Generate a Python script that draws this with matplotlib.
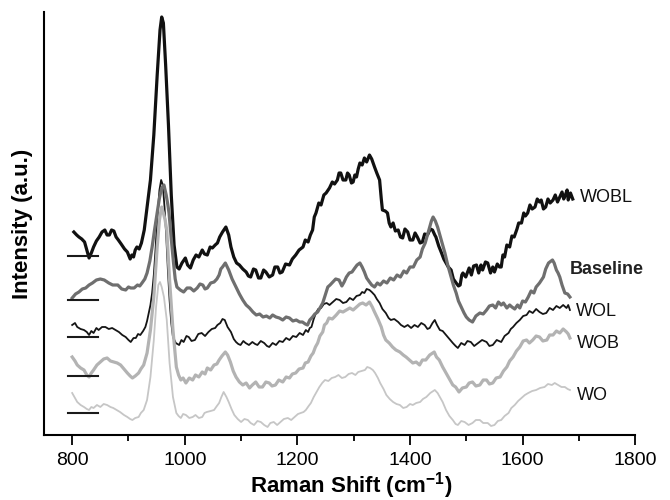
import matplotlib
matplotlib.use("Agg")
import matplotlib.pyplot as plt
from matplotlib.ticker import MultipleLocator

plt.rcParams['font.family'] = ['Liberation Sans', 'DejaVu Sans']
plt.rcParams['mathtext.fontset'] = 'custom'
plt.rcParams['mathtext.rm'] = 'Liberation Sans'
plt.rcParams['mathtext.bf'] = 'Liberation Sans:bold'

# Raman spectra, stacked (intensity in arbitrary units)
wobl_x = [803, 808, 812, 817, 822, 826, 830, 834, 838, 843, 848, 853, 858, 862, 866, 870, 874, 878,
          882, 887, 893, 898, 903, 906, 909, 912, 915, 919, 923, 928, 933, 939, 945, 951, 956, 959,
          962, 966, 971, 976, 981, 986, 990, 995, 1001, 1005, 1010, 1015, 1020, 1025, 1031, 1035,
          1040, 1045, 1049, 1054, 1058, 1062, 1067, 1073, 1078, 1082, 1087, 1092, 1097, 1103, 1109,
          1113, 1117, 1122, 1126, 1131, 1135, 1140, 1144, 1150, 1156, 1160, 1165, 1169, 1173, 1179,
          1186, 1191, 1197, 1203, 1210, 1214, 1219, 1223, 1227, 1230, 1233, 1238, 1242, 1247, 1251,
          1257, 1262, 1266, 1271, 1274, 1277, 1281, 1286, 1289, 1292, 1296, 1299, 1302, 1305, 1308,
          1311, 1315, 1319, 1323, 1328, 1332, 1337, 1341, 1346, 1349, 1351, 1356, 1360, 1363, 1366,
          1370, 1374, 1379, 1383, 1387, 1391, 1396, 1400, 1405, 1409, 1413, 1418, 1422, 1426, 1431,
          1436, 1440, 1444, 1446, 1451, 1456, 1460, 1464, 1468, 1473, 1477, 1482, 1486, 1489, 1492,
          1494, 1499, 1505, 1509, 1513, 1518, 1522, 1526, 1529, 1534, 1538, 1543, 1547, 1550, 1555,
          1559, 1562, 1565, 1568, 1572, 1577, 1581, 1585, 1590, 1593, 1598, 1602, 1605, 1609, 1613,
          1617, 1622, 1626, 1630, 1633, 1637, 1641, 1645, 1649, 1654, 1658, 1662, 1666, 1670, 1673,
          1676, 1679, 1681, 1685, 1689]
wobl_y = [203, 200, 198, 196, 193, 185, 177, 182, 188, 194, 198, 203, 205, 200, 200, 205, 204, 198,
          195, 191, 186, 183, 176, 180, 178, 185, 188, 186, 192, 205, 228, 255, 300, 360, 405, 418,
          412, 370, 310, 240, 190, 168, 166, 172, 177, 170, 167, 175, 180, 178, 185, 181,
          180, 188, 187, 190, 192, 198, 203, 208, 200, 188, 178, 172, 170, 166, 163,
          159, 158, 166, 165, 157, 157, 165, 163, 158, 160, 168, 168, 162, 163, 171,
          170, 176, 180, 185, 188, 195, 193, 200, 205, 218, 222, 232, 230, 240, 242,
          247, 253, 251, 255, 262, 262, 255, 255, 262, 260, 252, 253, 260, 258, 266,
          272, 270, 277, 273, 280, 276, 268, 262, 255, 236, 225, 224, 222, 212, 208,
          212, 204, 205, 198, 197, 206, 203, 195, 195, 202, 198, 192, 193, 201, 200,
          206, 205, 200, 198, 189, 182, 176, 172, 168, 165, 156, 152, 149, 150, 160,
          162, 158, 167, 160, 169, 170, 162, 170, 165, 173, 172, 162, 168, 163, 171,
          168, 168, 180, 178, 190, 188, 199, 198, 206, 212, 212, 222, 219, 222, 230,
          226, 228, 236, 233, 235, 226, 228, 236, 232, 235, 240, 233, 238, 243, 236,
          240, 245, 235, 242, 236]

base_x = [800, 806, 812, 818, 824, 830, 836, 843, 850, 857, 865, 872, 881, 888, 895, 900, 904, 910,
          916, 920, 924, 929, 933, 938, 942, 946, 951, 955, 959, 963, 967, 970, 972, 976, 980, 983,
          986, 992, 998, 1004, 1010, 1016, 1022, 1027, 1032, 1036, 1040, 1046, 1052, 1057, 1061,
          1064, 1067, 1072, 1078, 1084, 1091, 1097, 1103, 1109, 1115, 1121, 1127, 1133, 1139, 1145,
          1151, 1156, 1162, 1168, 1174, 1180, 1186, 1192, 1198, 1204, 1209, 1214, 1218, 1222, 1227,
          1231, 1236, 1240, 1245, 1250, 1254, 1258, 1263, 1268, 1274, 1279, 1283, 1287, 1292, 1297,
          1302, 1306, 1311, 1315, 1319, 1323, 1328, 1332, 1337, 1342, 1347, 1353, 1359, 1365, 1371,
          1377, 1383, 1389, 1394, 1400, 1406, 1412, 1418, 1422, 1427, 1431, 1435, 1438, 1441, 1445,
          1449, 1455, 1462, 1467, 1473, 1477, 1482, 1486, 1491, 1496, 1500, 1505, 1511, 1517, 1524,
          1530, 1536, 1541, 1547, 1552, 1557, 1562, 1566, 1572, 1577, 1581, 1586, 1591, 1595, 1600,
          1605, 1610, 1615, 1620, 1624, 1630, 1637, 1641, 1646, 1653, 1656, 1660, 1663, 1666, 1670,
          1675, 1680, 1684]
base_y = [137, 141, 143, 146, 147, 150, 152, 155, 156, 155, 152, 150, 150, 146, 145, 148, 147, 147,
          150, 149, 152, 156, 162, 174, 188, 204, 222, 237, 247, 250, 240, 230, 222, 196, 172, 156,
          148, 145, 143, 147, 147, 144, 147, 151, 150, 146, 147, 152, 153, 156, 160,
          166, 168, 172, 165, 156, 148, 141, 135, 130, 127, 123, 120, 121, 118, 119,
          117, 120, 118, 117, 115, 118, 117, 114, 115, 113, 113, 111, 110, 115, 118,
          121, 123, 127, 132, 141, 148, 150, 153, 156, 155, 149, 153, 158, 162, 163,
          167, 170, 172, 168, 163, 157, 153, 150, 148, 152, 150, 154, 152, 157, 155,
          160, 158, 164, 162, 168, 168, 175, 178, 186, 192, 200, 208, 214, 218, 214,
          208, 196, 182, 170, 158, 150, 142, 134, 128, 122, 118, 115, 113, 119, 122,
          121, 125, 129, 130, 127, 133, 130, 132, 127, 130, 128, 126, 130, 127, 134,
          133, 138, 144, 142, 148, 152, 158, 166, 172, 175, 172, 165, 162, 158, 150,
          142, 141, 138]

wol_x = [800, 805, 809, 815, 821, 826, 830, 834, 838, 843, 847, 853, 859, 865, 871, 877, 883, 889,
         895, 900, 904, 909, 913, 917, 921, 926, 930, 933, 936, 939, 942, 945, 948, 951, 955, 958,
         961, 964, 967, 970, 973, 976, 979, 984, 990, 994, 998, 1003, 1007, 1012, 1018, 1024, 1030,
         1036, 1042, 1048, 1054, 1058, 1063, 1067, 1071, 1076, 1082, 1087, 1091, 1095, 1099, 1104,
         1108, 1114, 1120, 1125, 1129, 1135, 1141, 1146, 1150, 1156, 1162, 1168, 1174, 1180, 1186,
         1192, 1198, 1204, 1210, 1215, 1219, 1222, 1225, 1229, 1233, 1237, 1242, 1247, 1252, 1257,
         1263, 1269, 1275, 1281, 1287, 1293, 1299, 1305, 1311, 1315, 1319, 1323, 1328, 1332, 1337,
         1341, 1346, 1351, 1357, 1362, 1366, 1372, 1379, 1384, 1390, 1396, 1402, 1408, 1414, 1420,
         1426, 1431, 1435, 1440, 1444, 1448, 1453, 1458, 1464, 1470, 1476, 1481, 1485, 1491, 1497,
         1502, 1508, 1514, 1521, 1528, 1536, 1541, 1547, 1554, 1562, 1568, 1575, 1579, 1583, 1589,
         1595, 1601, 1607, 1612, 1618, 1624, 1630, 1636, 1642, 1648, 1654, 1660, 1666, 1672, 1678,
         1681, 1684]
wol_y = [110, 112, 108, 106, 105, 103, 100, 104, 102, 107, 105, 108, 108, 106, 107, 105, 103, 100,
         98, 95, 93, 97, 97, 101, 100, 104, 108, 114, 122, 130, 142, 160, 185, 215, 245, 255,
         250, 228, 200, 165, 135, 112, 98, 92, 90, 95, 93, 99, 98, 94, 95, 101, 102,
         99, 103, 106, 107, 110, 112, 116, 115, 108, 103, 96, 93, 91, 90, 94,
         92, 90, 93, 91, 90, 94, 92, 89, 88, 92, 90, 94, 93, 97, 95,
         99, 98, 102, 100, 105, 103, 107, 108, 116, 122, 126, 127, 131, 132, 130,
         133, 136, 135, 132, 133, 137, 135, 139, 140, 143, 142, 146, 145, 143, 140,
         136, 132, 126, 122, 117, 115, 116, 113, 110, 108, 110, 107, 110, 108, 112,
         110, 106, 107, 112, 115, 110, 105, 104, 100, 96, 92, 89, 87, 92, 90,
         94, 93, 89, 92, 95, 93, 89, 90, 95, 93, 99, 102, 106, 108, 112,
         115, 119, 120, 124, 122, 126, 123, 121, 122, 127, 125, 129, 127, 130, 127,
         130, 125]

wob_x = [800, 805, 809, 815, 821, 826, 830, 834, 838, 844, 850, 856, 862, 868, 874, 880, 886, 892,
         898, 903, 907, 912, 918, 922, 927, 933, 939, 945, 951, 955, 957, 959, 962, 965, 968, 973,
         979, 985, 989, 993, 997, 1002, 1008, 1014, 1019, 1025, 1031, 1036, 1040, 1046, 1052, 1057,
         1061, 1066, 1072, 1076, 1081, 1086, 1091, 1097, 1103, 1109, 1115, 1120, 1126, 1132, 1138,
         1144, 1150, 1155, 1161, 1167, 1174, 1180, 1186, 1191, 1197, 1203, 1210, 1214, 1219, 1224,
         1228, 1232, 1236, 1240, 1245, 1248, 1252, 1256, 1262, 1269, 1275, 1281, 1287, 1293, 1299,
         1305, 1311, 1316, 1322, 1328, 1333, 1337, 1343, 1349, 1353, 1357, 1363, 1369, 1375, 1382,
         1388, 1393, 1399, 1405, 1411, 1417, 1422, 1428, 1435, 1443, 1447, 1452, 1458, 1464, 1470,
         1476, 1481, 1487, 1493, 1500, 1505, 1511, 1517, 1524, 1530, 1536, 1541, 1547, 1553, 1560,
         1566, 1572, 1577, 1583, 1589, 1595, 1601, 1607, 1612, 1618, 1624, 1630, 1636, 1643, 1648,
         1654, 1660, 1666, 1672, 1678, 1681, 1684]
wob_y = [78, 74, 70, 67, 65, 60, 58, 62, 65, 70, 73, 76, 77, 74, 73, 72, 70, 66,
         62, 59, 57, 59, 62, 66, 70, 82, 105, 138, 188, 215, 222, 228, 222, 215, 205, 155,
         105, 68, 60, 55, 57, 52, 57, 55, 60, 58, 63, 61, 67, 65, 70, 71,
         75, 79, 83, 80, 73, 64, 58, 53, 50, 52, 47, 50, 53, 48, 48,
         53, 52, 49, 50, 55, 53, 58, 57, 61, 62, 66, 67, 72, 73, 79,
         82, 88, 92, 99, 103, 110, 112, 117, 116, 120, 124, 123, 125, 127, 125,
         128, 131, 132, 130, 133, 128, 123, 116, 108, 100, 95, 92, 88, 85, 83,
         80, 78, 75, 72, 73, 70, 75, 75, 80, 83, 78, 75, 68, 62, 56,
         50, 48, 43, 47, 48, 52, 53, 49, 50, 55, 55, 51, 52, 57, 58,
         64, 68, 74, 78, 84, 88, 94, 95, 92, 95, 99, 98, 94, 95, 100,
         100, 104, 102, 106, 103, 101, 97]

wo_x = [800, 805, 809, 815, 821, 826, 830, 834, 838, 844, 850, 856, 862, 868, 873, 879, 885, 892,
        898, 903, 907, 912, 918, 922, 927, 933, 939, 945, 949, 953, 956, 959, 963, 968, 973, 979,
        985, 989, 993, 997, 1002, 1008, 1014, 1019, 1025, 1031, 1035, 1039, 1046, 1052, 1057, 1061,
        1065, 1069, 1074, 1078, 1083, 1088, 1094, 1100, 1106, 1112, 1117, 1123, 1129, 1135, 1141,
        1147, 1152, 1158, 1164, 1170, 1176, 1183, 1189, 1195, 1201, 1206, 1211, 1215, 1220, 1224,
        1229, 1233, 1239, 1244, 1249, 1255, 1261, 1267, 1273, 1279, 1285, 1291, 1297, 1303, 1308,
        1314, 1320, 1324, 1329, 1334, 1338, 1343, 1347, 1353, 1358, 1364, 1370, 1376, 1382, 1388,
        1394, 1400, 1405, 1411, 1418, 1423, 1429, 1436, 1444, 1449, 1453, 1458, 1464, 1470, 1476,
        1481, 1485, 1491, 1497, 1504, 1511, 1517, 1524, 1530, 1538, 1544, 1550, 1556, 1562, 1568,
        1575, 1580, 1586, 1592, 1598, 1604, 1610, 1617, 1624, 1631, 1639, 1645, 1652, 1657, 1663,
        1669, 1675, 1680, 1684]
wo_y = [42, 37, 33, 30, 28, 26, 25, 28, 27, 30, 28, 31, 30, 28, 27, 25, 23, 20,
        18, 16, 15, 17, 18, 22, 25, 35, 58, 95, 128, 150, 153, 148, 138, 115, 72, 38,
        22, 19, 17, 21, 20, 17, 18, 20, 17, 18, 22, 23, 24, 25, 29, 32,
        38, 43, 38, 33, 26, 20, 16, 13, 16, 15, 12, 10, 14, 13, 10,
        8, 12, 13, 10, 13, 16, 17, 15, 18, 21, 22, 23, 25, 29, 32,
        38, 42, 48, 52, 55, 54, 57, 58, 60, 57, 58, 61, 62, 60, 63,
        64, 65, 68, 67, 65, 62, 57, 52, 46, 40, 36, 33, 31, 30, 27,
        28, 31, 30, 32, 33, 36, 38, 42, 45, 42, 38, 33, 25, 19, 15,
        11, 10, 14, 13, 10, 12, 15, 15, 12, 12, 9, 10, 14, 15, 19,
        22, 27, 30, 34, 37, 40, 42, 44, 45, 47, 48, 51, 50, 52, 50,
        48, 48, 46, 45]

# zero markers drawn at the left of each trace
zero_levels = [179, 135, 98, 59, 22]
marker_x = [792, 846]

names = ['WOBL', 'Baseline', 'WOL', 'WOB', 'WO']
label_x = [1702, 1684, 1695, 1696, 1696]
label_y = [238, 165, 123, 91, 40]

fig = plt.figure(figsize=(6.7, 5.0), dpi=100)
ax = fig.add_axes([0.0657, 0.13, 0.8824, 0.846])

ax.plot(wol_x, wol_y, color='#151515', lw=1.3)
ax.plot(wobl_x, wobl_y, color='#111111', lw=2.3)
ax.plot(base_x, base_y, color='#6f6f6f', lw=2.3)
ax.plot(wob_x, wob_y, color='#b3b3b3', lw=2.3)
ax.plot(wo_x, wo_y, color='#c6c6c6', lw=1.3)

for z in zero_levels:
    ax.plot(marker_x, [z, z], color='#1a1a1a', lw=1.5)

for name, tx, ty in zip(names, label_x, label_y):
    if name == 'Baseline':
        ax.text(tx, ty, name, fontsize=13, fontweight='bold', color='#222222',
                va='center', ha='left')
    else:
        ax.text(tx, ty, name, fontsize=13, color='#111111', va='center', ha='left')

ax.set_xlim(750, 1800)
ax.set_ylim(0, 423)
ax.xaxis.set_major_locator(MultipleLocator(200))
ax.xaxis.set_minor_locator(MultipleLocator(100))
ax.set_yticks([])
ax.tick_params(axis='x', which='major', direction='out', length=7, width=1.3, labelsize=14,
               pad=5)
ax.tick_params(axis='x', which='minor', direction='out', length=4, width=1.3)

ax.spines['top'].set_visible(False)
ax.spines['right'].set_visible(False)
ax.spines['left'].set_linewidth(1.5)
ax.spines['bottom'].set_linewidth(1.5)

ax.set_xlabel(r'Raman Shift (cm$^{\mathbf{-1}}$)', fontsize=16, fontweight='bold', va='top')
ax.xaxis.set_label_coords(0.52, -0.083)
ax.set_ylabel('Intensity (a.u.)', fontsize=16, fontweight='bold')
ax.yaxis.set_label_coords(-0.019, 0.5)

fig.savefig('out.png', dpi=100)
